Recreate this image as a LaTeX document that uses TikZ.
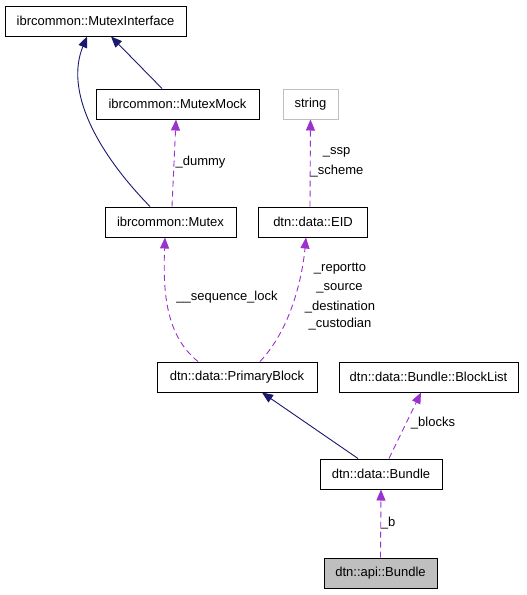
\documentclass[tikz,border=0pt]{standalone}
\usepackage{fontspec}
\setmainfont{Liberation Sans}
\usetikzlibrary{arrows.meta,calc}
\definecolor{navyedge}{RGB}{25,25,112}
\definecolor{purpedge}{RGB}{154,50,205}
\definecolor{boxgray}{RGB}{191,191,191}
\begin{document}
\begin{tikzpicture}[x=1pt,y=-1pt,
  clsbox/.style={draw=black, line width=1pt, fill=white, minimum height=30pt, inner sep=0pt, font=\fontsize{13}{15}\selectfont},
  inhedge/.style={draw=navyedge, line width=0.9pt, -{Triangle[length=11pt,width=9pt]}},
  useedge/.style={draw=purpedge, line width=0.9pt, dash pattern=on 6pt off 4pt, -{Triangle[length=11pt,width=9pt]}},
  edgelbl/.style={inner sep=0pt, font=\fontsize{13}{15}\selectfont}]
\useasboundingbox[fill=white] (0,0) rectangle (527,595);
\node[clsbox, minimum width=181pt] (mi) at (95.5,21) {ibrcommon::MutexInterface};
\node[clsbox, minimum width=163pt] (mock) at (177.5,104) {ibrcommon::MutexMock};
\node[clsbox, draw=boxgray, minimum width=55pt] (str) at (310.5,104) {string};
\node[clsbox, minimum width=131pt] (mutex) at (170.5,222) {ibrcommon::Mutex};
\node[clsbox, minimum width=109pt] (eid) at (313,222) {dtn::data::EID};
\node[clsbox, minimum width=160pt] (pb) at (237,377) {dtn::data::PrimaryBlock};
\node[clsbox, minimum width=179pt] (bl) at (428.5,377) {dtn::data::Bundle::BlockList};
\node[clsbox, minimum width=122pt] (db) at (381,474) {dtn::data::Bundle};
\node[clsbox, fill=boxgray, minimum width=113pt] (ab) at (380.5,573) {dtn::api::Bundle};
%
\draw[inhedge] ($(mock.north)+(-15.5,0)$) -- ($(mi.south)+(15.5,0)$);
\draw[inhedge] ($(mutex.north)+(-20.5,0)$) .. controls (95,150) and (65,90) .. ($(mi.south)+(-8.5,0)$);
\draw[useedge] ($(mutex.north)+(1.5,0)$) -- ($(mock.south)+(-1.5,0)$);
\draw[useedge] ($(eid.north)+(-3,0)$) -- (str.south);
\draw[useedge] ($(pb.north)+(-39,0)$) .. controls (165,335) and (163,290) .. ($(mutex.south)+(-5.5,0)$);
\draw[useedge] ($(pb.north)+(23,0)$) .. controls (290,330) and (302,280) .. ($(eid.south)+(-7,0)$);
\draw[inhedge] ($(db.north)+(-23,0)$) -- ($(pb.south)+(25,0)$);
\draw[useedge] ($(db.north)+(8,0)$) -- ($(bl.south)+(-7.5,0)$);
\draw[useedge] (ab.north) -- (db.south);
%
\node[edgelbl] (ldummy) at (200.5,162) {\_dummy};
\node[edgelbl] (lssp) at (336.5,152) {\_ssp};
\node[edgelbl] (lscheme) at (337,171) {\_scheme};
\node[edgelbl] (lseq) at (227,297) {\_\_sequence\_lock};
\node[edgelbl] (lrep) at (340,269) {\_reportto};
\node[edgelbl] (lsrc) at (339.5,288) {\_source};
\node[edgelbl] (ldest) at (340,307) {\_destination};
\node[edgelbl] (lcust) at (340,324) {\_custodian};
\node[edgelbl] (lblocks) at (433,423) {\_blocks};
\node[edgelbl] (lb) at (388,523) {\_b};
\end{tikzpicture}
\end{document}
